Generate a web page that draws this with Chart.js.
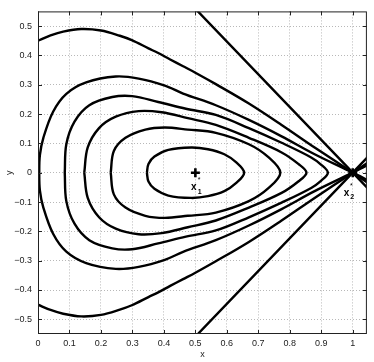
<!DOCTYPE html>
<html>
<head>
<meta charset="utf-8">
<script src="https://cdn.jsdelivr.net/npm/chart.js@4.4.1/dist/chart.umd.min.js"></script>
<style>
  html, body { margin: 0; padding: 0; background: #fff; }
  #wrap { width: 374px; height: 362px; }
</style>
</head>
<body>
<div id="wrap"><canvas id="grafico" width="374" height="362"></canvas></div>
<script>
// marcas de los ejes
const ticksX = [0, 0.1, 0.2, 0.3, 0.4, 0.5, 0.6, 0.7, 0.8, 0.9, 1];
const ticksY = [-0.5, -0.4, -0.3, -0.2, -0.1, 0, 0.1, 0.2, 0.3, 0.4, 0.5];

// curvas de nivel (mitad superior e inferior, de izquierda a derecha)
const curvaF_sup_x = [0, 0.04, 0.08, 0.137, 0.2, 0.26, 0.298, 0.351, 0.382, 0.42, 0.461, 0.5, 0.565, 0.67, 0.774, 0.879, 1, 1.05];
const curvaF_sup_y = [0.45, 0.468, 0.481, 0.49, 0.485, 0.467, 0.452, 0.424, 0.408, 0.386, 0.363, 0.341, 0.302, 0.236, 0.163, 0.086, 0, -0.036];
const curvaF_inf_x = [0, 0.04, 0.08, 0.137, 0.2, 0.26, 0.298, 0.351, 0.382, 0.42, 0.461, 0.5, 0.565, 0.67, 0.774, 0.879, 1, 1.05];
const curvaF_inf_y = [-0.45, -0.468, -0.481, -0.49, -0.485, -0.467, -0.452, -0.424, -0.408, -0.386, -0.363, -0.341, -0.302, -0.236, -0.163, -0.086, 0, 0.036];

const curvaA_sup_x = [0.004, 0.006, 0.017, 0.048, 0.09, 0.153, 0.247, 0.32, 0.403, 0.461, 0.565, 0.67, 0.774, 0.879, 1, 1.05];
const curvaA_sup_y = [0, 0.06, 0.119, 0.208, 0.269, 0.308, 0.328, 0.321, 0.297, 0.27, 0.23, 0.18, 0.124, 0.063, 0, -0.027];
const curvaA_inf_x = [0.004, 0.006, 0.017, 0.048, 0.09, 0.153, 0.247, 0.32, 0.403, 0.461, 0.565, 0.67, 0.774, 0.879, 1, 1.05];
const curvaA_inf_y = [0, -0.06, -0.119, -0.208, -0.269, -0.308, -0.328, -0.321, -0.297, -0.27, -0.23, -0.18, -0.124, -0.063, 0, 0.027];

const curvaB_sup_x = [0.085, 0.09, 0.116, 0.163, 0.236, 0.299, 0.382, 0.47, 0.565, 0.67, 0.774, 0.868, 0.9, 0.921];
const curvaB_sup_y = [0, 0.097, 0.174, 0.23, 0.258, 0.261, 0.241, 0.218, 0.197, 0.152, 0.102, 0.052, 0.027, 0];
const curvaB_inf_x = [0.085, 0.09, 0.116, 0.163, 0.236, 0.299, 0.382, 0.47, 0.565, 0.67, 0.774, 0.868, 0.9, 0.921];
const curvaB_inf_y = [0, -0.097, -0.174, -0.23, -0.258, -0.261, -0.241, -0.218, -0.197, -0.152, -0.102, -0.052, -0.027, 0];

const curvaC_sup_x = [0.147, 0.158, 0.194, 0.247, 0.32, 0.393, 0.476, 0.565, 0.67, 0.774, 0.827, 0.853];
const curvaC_sup_y = [0, 0.086, 0.152, 0.191, 0.21, 0.206, 0.186, 0.163, 0.119, 0.069, 0.03, 0];
const curvaC_inf_x = [0.147, 0.158, 0.194, 0.247, 0.32, 0.393, 0.476, 0.565, 0.67, 0.774, 0.827, 0.853];
const curvaC_inf_y = [0, -0.086, -0.152, -0.191, -0.21, -0.206, -0.186, -0.163, -0.119, -0.069, -0.03, 0];

const curvaD_sup_x = [0.231, 0.241, 0.278, 0.341, 0.403, 0.476, 0.565, 0.67, 0.733, 0.77];
const curvaD_sup_y = [0, 0.074, 0.119, 0.147, 0.154, 0.147, 0.136, 0.097, 0.052, 0];
const curvaD_inf_x = [0.231, 0.241, 0.278, 0.341, 0.403, 0.476, 0.565, 0.67, 0.733, 0.77];
const curvaD_inf_y = [0, -0.074, -0.119, -0.147, -0.154, -0.147, -0.136, -0.097, -0.052, 0];

const curvaE_sup_x = [0.346, 0.351, 0.37, 0.414, 0.487, 0.54, 0.592, 0.63, 0.655];
const curvaE_sup_y = [0, 0.03, 0.055, 0.078, 0.086, 0.08, 0.063, 0.035, 0];
const curvaE_inf_x = [0.346, 0.351, 0.37, 0.414, 0.487, 0.54, 0.592, 0.63, 0.655];
const curvaE_inf_y = [0, -0.03, -0.055, -0.078, -0.086, -0.08, -0.063, -0.035, 0];

// rectas que cruzan por x2*
const recta1_x = [0.5, 1, 1.05];
const recta1_y = [0.559, 0, -0.056];
const recta2_x = [0.5, 1, 1.05];
const recta2_y = [-0.559, 0, 0.056];

// puntos de equilibrio x1*, x2*
const equilibrio_x = [0.5, 1];
const equilibrio_y = [0, 0];

function puntos(xs, ys) {
  return xs.map((x, i) => ({ x: x, y: ys[i] }));
}

// curva cerrada: mitad superior y vuelta por la inferior
function cerrada(sx, sy, ix, iy) {
  return puntos(sx, sy).concat(puntos(ix, iy).reverse().slice(1));
}

const linea = (data, tension) => ({
  data: data,
  showLine: true,
  borderColor: '#000',
  borderWidth: 2.4,
  pointRadius: 0,
  tension: tension,
  clip: 0
});

const datasets = [
  linea(puntos(curvaF_sup_x, curvaF_sup_y), 0.35),
  linea(puntos(curvaF_inf_x, curvaF_inf_y), 0.35),
  linea(puntos(curvaA_inf_x, curvaA_inf_y).reverse().concat(puntos(curvaA_sup_x, curvaA_sup_y).slice(1)), 0.35),
  linea(cerrada(curvaB_sup_x, curvaB_sup_y, curvaB_inf_x, curvaB_inf_y), 0.35),
  linea(cerrada(curvaC_sup_x, curvaC_sup_y, curvaC_inf_x, curvaC_inf_y), 0.35),
  linea(cerrada(curvaD_sup_x, curvaD_sup_y, curvaD_inf_x, curvaD_inf_y), 0.35),
  linea(cerrada(curvaE_sup_x, curvaE_sup_y, curvaE_inf_x, curvaE_inf_y), 0.35),
  linea(puntos(recta1_x, recta1_y), 0),
  linea(puntos(recta2_x, recta2_y), 0),
  {
    data: puntos(equilibrio_x, equilibrio_y),
    showLine: false,
    pointStyle: 'cross',
    pointRadius: 4.5,
    borderColor: '#000',
    borderWidth: 2.6
  }
];

// textos x1*, x2* (posicion en unidades de los ejes)
const etiquetas = [
  { t: 'x', x: 0.495, y: -0.048, font: 'bold 10px "Liberation Sans", Arial' },
  { t: '*', x: 0.512, y: -0.024, font: '7px "Liberation Sans", Arial' },
  { t: '1', x: 0.514, y: -0.067, font: 'bold 7px "Liberation Sans", Arial' },
  { t: 'x', x: 0.98, y: -0.07, font: 'bold 10px "Liberation Sans", Arial' },
  { t: '*', x: 0.996, y: -0.046, font: '7px "Liberation Sans", Arial' },
  { t: '2', x: 0.998, y: -0.082, font: 'bold 7px "Liberation Sans", Arial' }
];

const textosPlugin = {
  id: 'textos',
  afterDatasetsDraw(chart) {
    const ctx = chart.ctx;
    const sx = chart.scales.x, sy = chart.scales.y;
    ctx.save();
    ctx.fillStyle = '#000';
    ctx.textAlign = 'center';
    ctx.textBaseline = 'middle';
    etiquetas.forEach(e => {
      ctx.font = e.font;
      ctx.fillText(e.t, sx.getPixelForValue(e.x), sy.getPixelForValue(e.y));
    });
    ctx.restore();
  }
};

// marco y marcas hacia dentro, estilo matlab
const marcoPlugin = {
  id: 'marco',
  afterDraw(chart) {
    const ctx = chart.ctx;
    const a = chart.chartArea;
    const sx = chart.scales.x, sy = chart.scales.y;
    ctx.save();
    ctx.strokeStyle = '#222';
    ctx.lineWidth = 1;
    ctx.strokeRect(a.left + 0.5, a.top + 0.5, a.right - a.left - 1, a.bottom - a.top - 1);
    ctx.beginPath();
    ticksX.forEach(v => {
      const p = Math.round(sx.getPixelForValue(v)) + 0.5;
      ctx.moveTo(p, a.bottom); ctx.lineTo(p, a.bottom - 4);
      ctx.moveTo(p, a.top); ctx.lineTo(p, a.top + 4);
    });
    ticksY.forEach(v => {
      const p = Math.round(sy.getPixelForValue(v)) + 0.5;
      ctx.moveTo(a.left, p); ctx.lineTo(a.left + 4, p);
      ctx.moveTo(a.right, p); ctx.lineTo(a.right - 4, p);
    });
    ctx.stroke();
    ctx.restore();
  }
};

const fuente = { family: '"Liberation Sans", Arial, sans-serif', size: 9 };
const formato = v => (Math.round(v * 10) / 10).toString().replace('-', '\u2212');

new Chart(document.getElementById('grafico'), {
  type: 'scatter',
  data: { datasets: datasets },
  options: {
    responsive: false,
    animation: false,
    devicePixelRatio: 1,
    layout: { padding: { top: 4, right: 3, left: 0, bottom: 0 } },
    plugins: {
      legend: { display: false },
      tooltip: { enabled: false }
    },
    scales: {
      x: {
        type: 'linear',
        min: 0,
        max: 1.045,
        afterBuildTicks: scale => { scale.ticks = ticksX.map(v => ({ value: v })); },
        afterFit: scale => { scale.height = 28; },
        ticks: { font: fuente, color: '#222', padding: 4, maxRotation: 0, autoSkip: false, callback: formato },
        grid: { color: '#b8b8b8', lineWidth: 1, drawTicks: false },
        border: { display: false, dash: [1, 2] },
        title: { display: true, text: 'x', font: fuente, color: '#222', padding: { top: 0, bottom: 2 } }
      },
      y: {
        type: 'linear',
        min: -0.55,
        max: 0.55,
        afterBuildTicks: scale => { scale.ticks = ticksY.map(v => ({ value: v })); },
        afterFit: scale => { scale.width = 38; },
        ticks: { font: fuente, color: '#222', padding: 6, autoSkip: false, callback: formato },
        grid: { color: '#b8b8b8', lineWidth: 1, drawTicks: false },
        border: { display: false, dash: [1, 2] },
        title: { display: true, text: 'y', font: fuente, color: '#222', padding: { top: 4, bottom: 0 } }
      }
    }
  },
  plugins: [textosPlugin, marcoPlugin]
});
</script>
</body>
</html>
